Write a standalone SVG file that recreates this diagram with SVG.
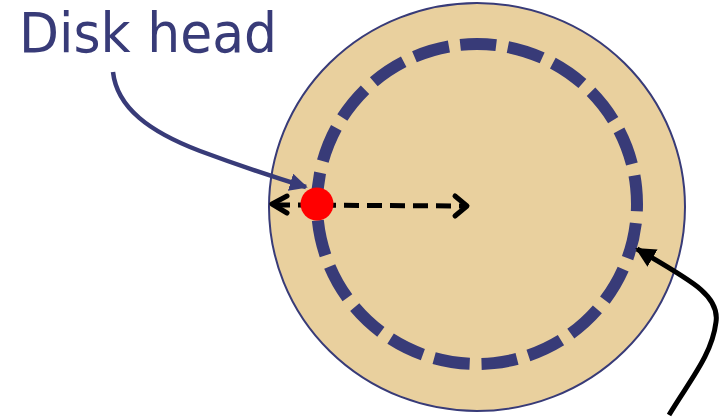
<svg xmlns="http://www.w3.org/2000/svg" width="725" height="418" viewBox="0 0 725 418">
<style>
.lbl{font-family:"DejaVu Sans",Verdana,sans-serif;fill:#383b78;font-size:55px}
.chev{fill:none;stroke:#000;stroke-width:5;stroke-linecap:round;stroke-linejoin:round}
</style>
<defs>
<marker id="ahBlue" viewBox="0 0 10 10" refX="9" refY="5" markerWidth="4" markerHeight="4" orient="auto" markerUnits="strokeWidth"><path d="M0,0 L10,5 L0,10 Z" fill="#383b78"/></marker>
<marker id="ahBlack" viewBox="0 0 10 10" refX="9" refY="5" markerWidth="4" markerHeight="4" orient="auto" markerUnits="strokeWidth"><path d="M0,0 L10,5 L0,10 Z" fill="#000"/></marker>
</defs>
<g id="disk">
<ellipse cx="477" cy="207" rx="208" ry="204" fill="#e9d09e" stroke="#383b78" stroke-width="2"/>
</g>
<g id="track">
<circle cx="477" cy="204" r="160" fill="none" stroke="#383b78" stroke-width="12" stroke-dasharray="36 11.87" transform="rotate(-96 477 204)"/>
</g>
<g id="label">
<text class="lbl" x="19" y="52" textLength="258" lengthAdjust="spacingAndGlyphs">Disk head</text>
</g>
<g id="connectors">
<line x1="275" y1="205" x2="464" y2="206" stroke="#000" stroke-width="5" stroke-dasharray="15 8"/>
<polyline class="chev" points="287,196 272,204 287,213"/>
<polyline class="chev" points="455,196 467,206 455,216"/>
<path d="M113,72 C117,108 150,132 200,151 C235,164 270,176 306,187" fill="none" stroke="#383b78" stroke-width="4.5" marker-end="url(#ahBlue)"/>
<path d="M669,415 C690,380 712,355 716,322 C720,295 690,280 637,249" fill="none" stroke="#000" stroke-width="5" marker-end="url(#ahBlack)"/>
</g>
<g id="head">
<circle cx="317" cy="204" r="16.5" fill="#ff0000"/>
</g>
</svg>
